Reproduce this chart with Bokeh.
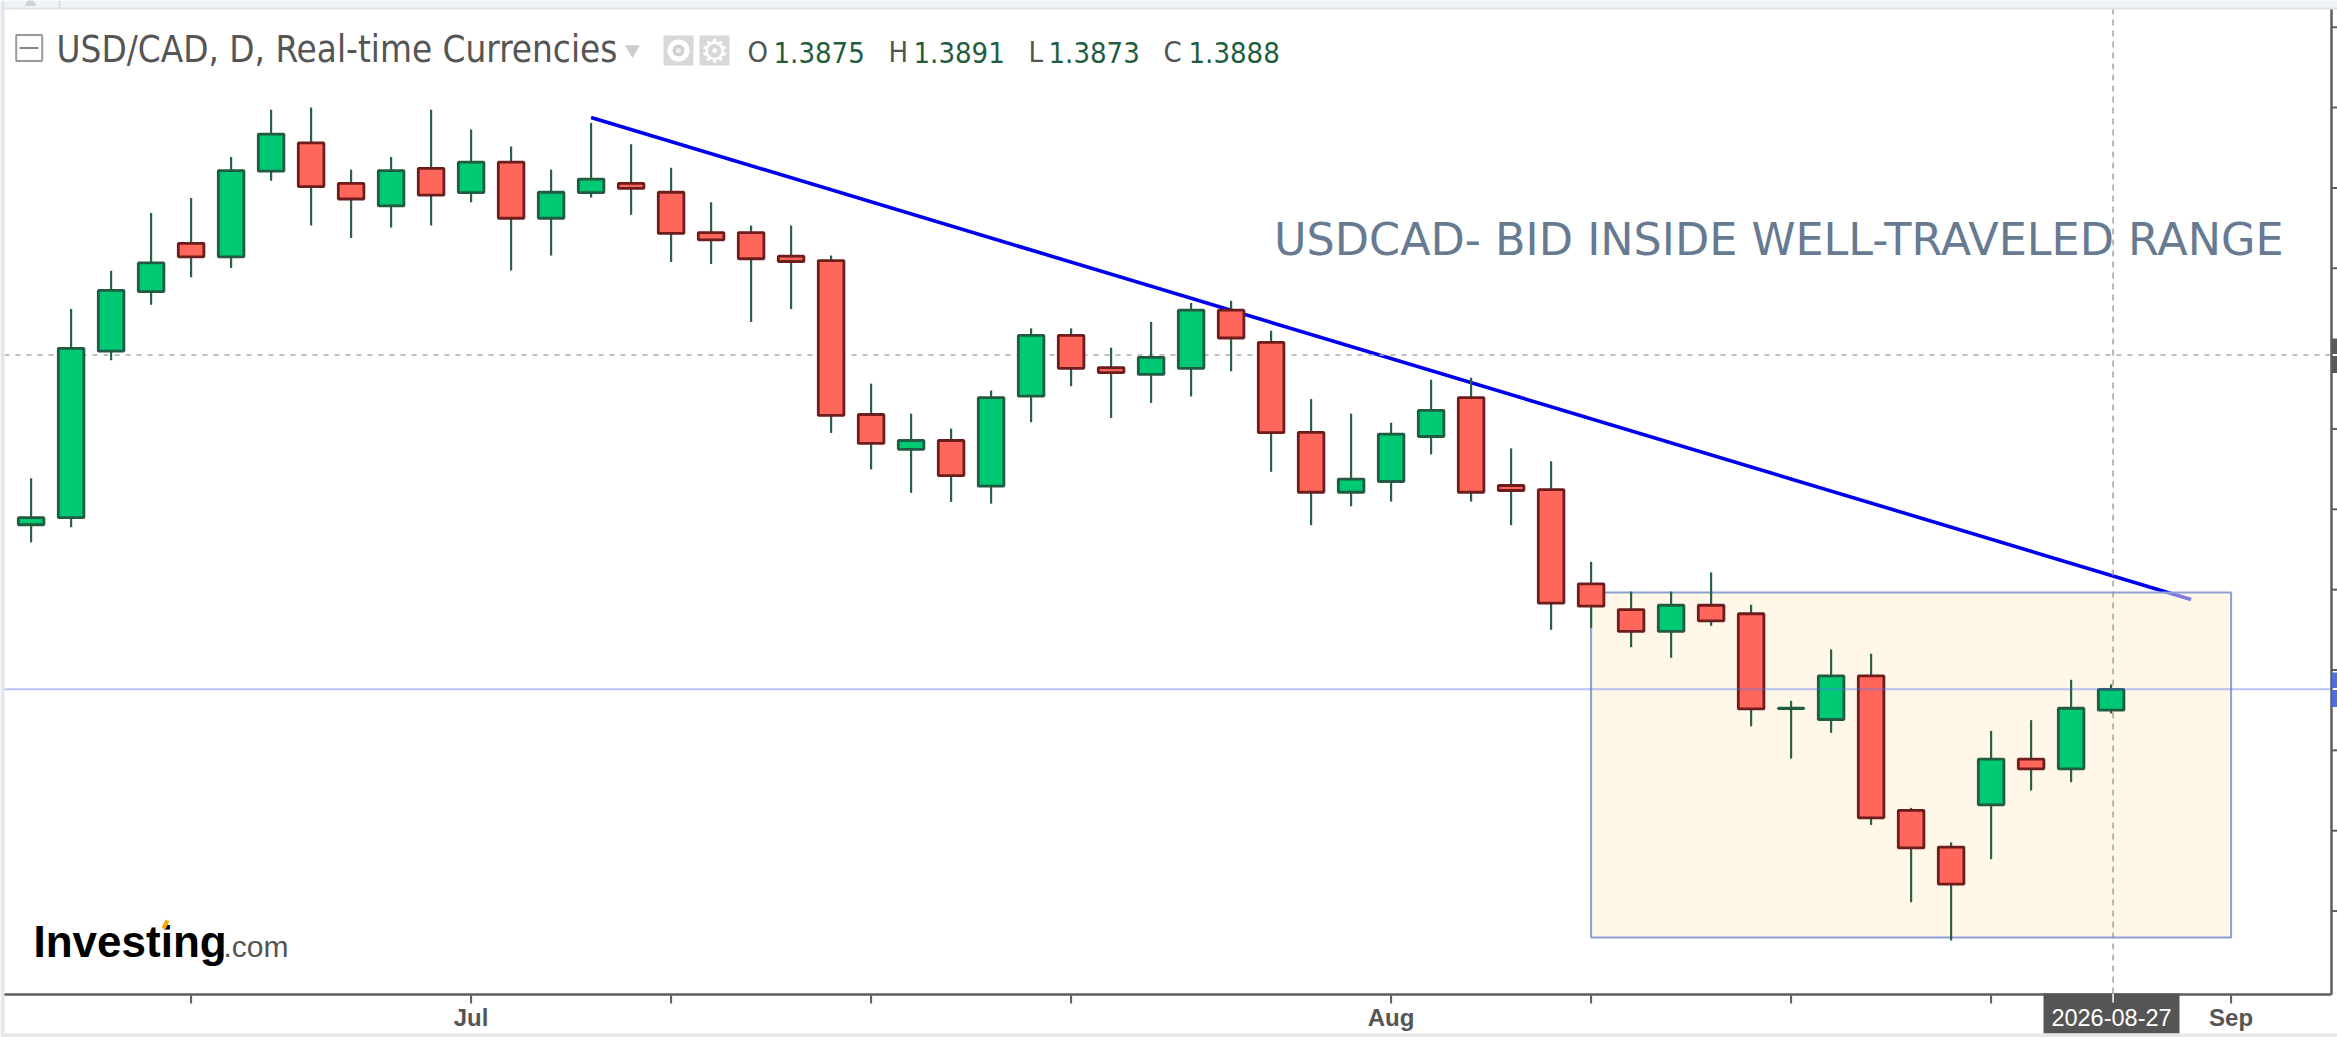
from bokeh.plotting import figure
from bokeh.embed import file_html
from bokeh.resources import INLINE
from bokeh.core.properties import value
from bokeh.models import Range1d

# ---- data: daily USD/CAD candles
opens = [1.39904,1.39948,1.40984,1.41355,1.41655,1.41571,1.42104,1.42280,1.42028,1.41888,
         1.42122,1.41971,1.42160,1.41811,1.41971,1.42028,1.41973,1.41722,1.41722,1.41575,
         1.41548,1.40590,1.40373,1.40428,1.40144,1.40704,1.41082,1.40882,1.40839,1.40877,
         1.41239,1.41039,1.40479,1.40106,1.40173,1.40453,1.40695,1.40148,1.40122,1.39536,
         1.39376,1.39240,1.39403,1.39350,1.38760,1.38692,1.38964,1.38126,1.37898,1.38161,
         1.38445,1.38385,1.3875]
highs = [1.40193,1.41246,1.41484,1.41844,1.41937,1.42193,1.42486,1.42500,1.42113,1.42193,
         1.42486,1.42364,1.42257,1.42113,1.42404,1.42271,1.42126,1.41911,1.41766,1.41766,
         1.41579,1.40782,1.40595,1.40502,1.40739,1.41126,1.41126,1.41006,1.41166,1.41284,
         1.41297,1.41111,1.40686,1.40595,1.40539,1.40806,1.40819,1.40379,1.40299,1.39673,
         1.39488,1.39488,1.39607,1.39406,1.38808,1.39128,1.39101,1.38142,1.37927,1.38621,
         1.38688,1.38939,1.3891]
lows = [1.39795,1.39888,1.40928,1.41273,1.41444,1.41502,1.42044,1.41766,1.41688,1.41753,
        1.41766,1.41911,1.41486,1.41579,1.41940,1.41833,1.41539,1.41526,1.41166,1.41246,
        1.40475,1.40248,1.40102,1.40046,1.40035,1.40542,1.40766,1.40568,1.40662,1.40702,
        1.40859,1.40233,1.39901,1.40019,1.40048,1.40342,1.40048,1.39901,1.39250,1.39262,
        1.39142,1.39076,1.39275,1.38650,1.38449,1.38609,1.38036,1.37555,1.37317,1.37823,
        1.38250,1.38302,1.3873]
closes = [1.39948,1.41002,1.41362,1.41533,1.41571,1.42108,1.42335,1.42008,1.41931,1.42108,
          1.41955,1.42160,1.41811,1.41973,1.42055,1.41997,1.41717,1.41677,1.41559,1.41542,
          1.40584,1.40410,1.40428,1.40210,1.40695,1.41082,1.40877,1.40851,1.40946,1.41239,
          1.41066,1.40477,1.40106,1.40188,1.40468,1.40615,1.40106,1.40117,1.39416,1.39397,
          1.39240,1.39403,1.39306,1.38758,1.38762,1.38964,1.38080,1.37893,1.37667,1.38445,
          1.38385,1.38762,1.3888]
title_text = "USD/CAD, D, Real-time Currencies"
ohlc_letters = ["O", "H", "L", "C"]
ohlc_values = ["1.3875", "1.3891", "1.3873", "1.3888"]
note_text = "USDCAD- BID INSIDE WELL-TRAVELED RANGE"
x_ticks = [4, 11, 16, 21, 26, 34, 39, 44, 49, 55]
x_tick_labels = {11: "Jul", 34: "Aug", 55: "Sep"}
y_ticks = [1.375, 1.38, 1.385, 1.39, 1.395, 1.40, 1.405, 1.41, 1.415, 1.42, 1.425, 1.43]
trend_x, trend_y = [14, 54], [1.42438, 1.39439]
range_box = dict(left=39, right=55, top=1.39482, bottom=1.37335)
last_price = 1.3888
cross_price = 1.4096
cross_index = 52.05
date_text = "2026-08-27"

# page pixel -> data helpers for the furniture of the chart
def X(px): return (px - 30.6) / 40.0
def Y(py): return 1.39 + (669.5 - py) / 16070.0

AXIS = "#5e5e5e"
p = figure(width=2337, height=1037, output_backend="svg", toolbar_location=None,
           x_range=Range1d(X(0), X(2337)), y_range=Range1d(Y(1037), Y(0)),
           x_axis_location=None, y_axis_location=None, min_border_left=0, min_border_top=0,
           min_border_right=0, min_border_bottom=0, background_fill_color="white")
p.grid.visible = False
p.outline_line_color = None

def txt(px, py, s, size, color, font="DejaVu Sans Condensed", style="normal", align="left"):
    # py is the text's baseline in page pixels
    p.text([X(px)], [Y(py - 0.37 * size)], text=[s], text_font=value(font), text_font_size=f"{size}px",
           text_color=color, text_font_style=style, text_align=align, text_baseline="middle")

# trend line, range box, cross-hair
p.line(trend_x, trend_y, line_color="#0000f0", line_width=3.6)
p.quad(fill_color="#fff0d2", fill_alpha=0.5, line_color="#8d9fd6", line_width=2, **range_box)
p.line([X(4), X(2331)], [cross_price, cross_price], line_color="#aaaaaa", line_width=1.6, line_dash="5 6")
p.line([cross_index, cross_index], [Y(8), Y(994)], line_color="#999999", line_width=1.4, line_dash="6 5")

# candles
ups = [i for i in range(len(opens)) if closes[i] >= opens[i]]
downs = [i for i in range(len(opens)) if closes[i] < opens[i]]
idx = list(range(len(opens)))
p.segment(idx, highs, idx, lows, line_color="#2b6247", line_width=2.2)
p.vbar([i for i in ups], top=[closes[i] for i in ups], bottom=[opens[i] for i in ups], width=0.64,
       fill_color="#00c974", line_color="#215b41", line_width=2.8)
p.vbar([i for i in downs], top=[opens[i] for i in downs], bottom=[closes[i] for i in downs], width=0.64,
       fill_color="#ff675d", line_color="#6e1d1d", line_width=2.8)

# last price line
p.line([X(4), X(2331)], [last_price, last_price], line_color="#4a70f5", line_alpha=0.8, line_width=2, line_dash="1 1")

# price scale (its labels are cut off in the reference)
p.segment([X(2331)], [Y(8)], [X(2331)], [Y(994)], line_color=AXIS, line_width=2.5)
p.segment([X(2331)] * len(y_ticks), y_ticks, [X(2337)] * len(y_ticks), y_ticks, line_color=AXIS, line_width=2)
p.quad(left=[X(2331.5)] * 2, right=[X(2337)] * 2, top=[Y(338), Y(355.5)], bottom=[Y(353.5), Y(372.5)],
       fill_color="#5a5a5a", line_color=None)
p.quad(left=[X(2331.5)] * 2, right=[X(2337)] * 2, top=[Y(672), Y(689.5)], bottom=[Y(687.5), Y(706.5)],
       fill_color="#4d70e0", line_color=None)

# time scale
p.segment([X(3.5)], [Y(994)], [X(2331)], [Y(994)], line_color=AXIS, line_width=2.5)
p.segment(x_ticks, [Y(994)] * len(x_ticks), x_ticks, [Y(1003)] * len(x_ticks), line_color=AXIS, line_width=2)
for t, lab in x_tick_labels.items():
    txt(30.6 + 40 * t, 1025.5, lab, 24, "#555555", font="Liberation Sans", style="bold", align="center")
p.quad(left=[X(2043)], right=[X(2179)], top=[Y(993)], bottom=[Y(1033)], fill_color="#555555", line_color=None)
p.segment([cross_index], [Y(993)], [cross_index], [Y(1002)], line_color="white", line_width=1.5)
txt(2111, 1025.5, date_text, 23.5, "white", font="Liberation Sans", align="center")

# window frame
p.quad(left=[X(0)], right=[X(2337)], top=[Y(0)], bottom=[Y(7)], fill_color="#f0f3f7", line_color=None)
p.quad(left=[X(0)], right=[X(2337)], top=[Y(7)], bottom=[Y(9)], fill_color="#dfe2e8", line_color=None)
p.quad(left=[X(0)], right=[X(4)], top=[Y(0)], bottom=[Y(1033)], fill_color="#e3e6ee", line_color=None)
p.quad(left=[X(58)], right=[X(60)], top=[Y(0)], bottom=[Y(8)], fill_color="#d8dce2", line_color=None)
p.quad(left=[X(0)], right=[X(2337)], top=[Y(1033)], bottom=[Y(1037)], fill_color="#e8e8e8", line_color=None)
p.scatter([X(30)], [Y(2)], marker="triangle", size=12, fill_color="#d0d3d8", line_color=None)

# header
txt(56, 62.5, title_text, 36.5, "#555555")
p.quad(left=[X(15.7)], right=[X(41.7)], top=[Y(34.5)], bottom=[Y(60.5)], fill_color="white",
       line_color="#9a9a9a", line_width=2)
p.line([X(19), X(38)], [Y(47.5), Y(47.5)], line_color="#888888", line_width=2)
p.scatter([X(632)], [Y(49)], marker="inverted_triangle", size=15, fill_color="#cccccc", line_color=None)
p.quad(left=[X(663), X(699)], right=[X(693), X(729)], top=[Y(35), Y(35)], bottom=[Y(65), Y(65)],
       fill_color="#d8d8d8", line_color=None)
p.scatter([X(678)], [Y(50)], marker="circle", size=22, fill_color="white", line_color=None)
p.scatter([X(678)], [Y(50)], marker="circle", size=12, fill_color="#d0d0d0", line_color=None)
p.scatter([X(678)], [Y(50)], marker="circle", size=5, fill_color="#eeeeee", line_color=None)
txt(714, 62, "\u2699", 32, "white", font="DejaVu Sans", align="center")
for lx, vx, l, v in zip([747, 888, 1028, 1163], [773, 913, 1048, 1188], ohlc_letters, ohlc_values):
    txt(lx, 62.5, l, 29, "#555555")
    txt(vx, 62.5, v, 29, "#1f5d3f")

txt(1273.5, 255.5, note_text, 44.5, "#667b91", font="DejaVu Sans")

# logo
txt(33, 957, "Investing", 44, "#000000", font="Liberation Sans", style="bold")
txt(223, 957, ".com", 30, "#555555", font="Liberation Sans")
p.line([X(163), X(167)], [Y(928), Y(920)], line_color="#f7a600", line_width=4)

open("out.html", "w").write(file_html(p, INLINE))
